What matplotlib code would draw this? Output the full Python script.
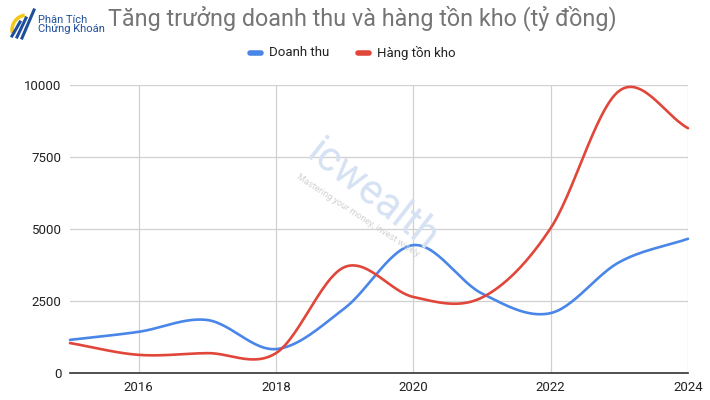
import numpy as np
import matplotlib.pyplot as plt
from matplotlib.patches import Arc

# yearly values (tỷ đồng)
years = [2015, 2016, 2017, 2018, 2019, 2020, 2021, 2022, 2023, 2024]
doanh_thu = [1150, 1430, 1840, 830, 2250, 4440, 2760, 2080, 3850, 4660]
hang_ton_kho = [1040, 630, 690, 690, 3680, 2640, 2620, 5030, 9800, 8500]

x_ticks = [2016, 2018, 2020, 2022, 2024]
y_ticks = [0, 2500, 5000, 7500, 10000]

BLUE = '#4a86e8'
RED = '#e0463a'


def smooth(x, y, n=30):
    # cubic hermite curve through the points (like "smooth line" charts)
    x = np.asarray(x, float)
    y = np.asarray(y, float)
    m = np.zeros_like(y)
    m[1:-1] = (y[2:] - y[:-2]) / (x[2:] - x[:-2])
    m[0] = (y[1] - y[0]) / (x[1] - x[0])
    m[-1] = (y[-1] - y[-2]) / (x[-1] - x[-2])
    xs, ys = [], []
    for i in range(len(x) - 1):
        h = x[i + 1] - x[i]
        t = np.linspace(0, 1, n, endpoint=False)
        h00 = 2 * t**3 - 3 * t**2 + 1
        h10 = t**3 - 2 * t**2 + t
        h01 = -2 * t**3 + 3 * t**2
        h11 = t**3 - t**2
        xs.append(x[i] + t * h)
        ys.append(h00 * y[i] + h10 * h * m[i] + h01 * y[i + 1] + h11 * h * m[i + 1])
    xs.append([x[-1]])
    ys.append([y[-1]])
    return np.concatenate(xs), np.concatenate(ys)


plt.rcParams['font.family'] = ['Roboto', 'DejaVu Sans']

fig = plt.figure(figsize=(7.1, 4.0), dpi=100)
ax = fig.add_axes([70 / 710, 27 / 400, 618 / 710, 288 / 400])

for vals, color in [(doanh_thu, BLUE), (hang_ton_kho, RED)]:
    sx, sy = smooth(years, vals)
    ax.plot(sx, sy, color=color, lw=1.9, solid_capstyle='round', zorder=3,
            clip_on=False)

ax.set_xlim(2015, 2024)
ax.set_ylim(0, 10000)
ax.set_xticks(x_ticks)
ax.set_yticks(y_ticks)
ax.set_xticklabels([str(v) for v in x_ticks], fontsize=9.5, color='#222222')
ax.set_yticklabels([str(v) for v in y_ticks], fontsize=9.5, color='#222222')
ax.tick_params(length=0, pad=6)
ax.grid(True, color='#d0d0d0', lw=0.9)
for s in ['top', 'right', 'left']:
    ax.spines[s].set_visible(False)
ax.spines['bottom'].set_color('#333333')
ax.spines['bottom'].set_linewidth(1.2)
ax.spines['bottom'].set_zorder(4)

# watermark
fig.text(0.524, 0.512, 'icwealth', fontsize=30, color='#d6e2f3', rotation=-38,
         ha='center', va='center', zorder=0)
fig.text(0.504, 0.462, 'Mastering your money, invest wisely', fontsize=6.5,
         color='#d2d2d2', rotation=-33, ha='center', va='center', zorder=0)

# title
fig.text(0.152, 0.955, 'Tăng trưởng doanh thu và hàng tồn kho (tỷ đồng)',
         fontsize=16.8, color='#757575', ha='left', va='center')

# logo
fig.add_artist(Arc((27 / 710, 1 - 30 / 400), 30 / 710, 30 / 400, theta1=95,
                   theta2=200, color='#f5c518', lw=2.5))
for x0, y0, x1, y1 in [(12, 36, 20, 22), (17, 37, 26, 18), (22, 38, 34, 10)]:
    fig.add_artist(plt.Line2D([x0 / 710, x1 / 710], [1 - y0 / 400, 1 - y1 / 400],
                              color='#1f4f9a', lw=2.2))
fig.text(0.054, 0.938, 'Phân Tích\nChứng Khoán', fontsize=8, color='#1f4f9a',
         ha='left', va='center', linespacing=0.85)

# legend
lx = [(250, 'Doanh thu', BLUE), (358, 'Hàng tồn kho', RED)]
for px, label, color in lx:
    fig.add_artist(plt.Line2D([px / 710, (px + 11) / 710], [0.868, 0.868],
                              color=color, lw=4, solid_capstyle='round'))
    fig.text((px + 19) / 710, 0.868, label, fontsize=9.5, color='#222222',
             ha='left', va='center')

fig.savefig('out.png', dpi=100)
